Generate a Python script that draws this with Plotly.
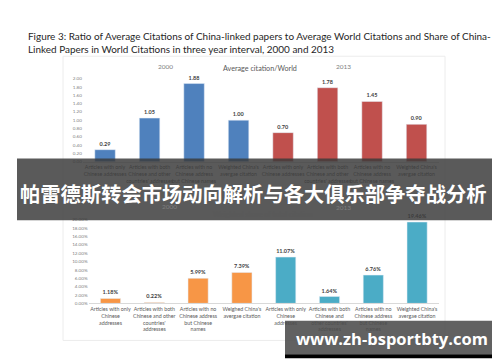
import plotly.graph_objects as go

# ---------------- data ----------------
years = ["2000", "2013"]
ratio_2000 = [0.29, 1.05, 1.88, 1.00]
ratio_2013 = [0.70, 1.78, 1.45, 0.90]
share_2000 = [1.18, 0.22, 5.99, 7.39]
share_2013 = [11.07, 1.64, 6.76, 19.46]

top_labels = [
    "Articles with only<br>Chinese addresses",
    "Articles with both<br>Chinese and other<br>countries' addresses",
    "Articles with no<br>Chinese address<br>but Chinese names",
    "Weighted China's<br>avergae citation",
    "Articles with only<br>Chinese addresses",
    "Articles with both<br>Chinese and other<br>countries' addresses",
    "Articles with no<br>Chinese address<br>but Chinese names",
    "Weighted China's<br>avergae citation",
]
bottom_labels = [
    "Articles with only<br>Chinese<br>addresses",
    "Articles with both<br>Chinese and other<br>countries'<br>addresses",
    "Articles with no<br>Chinese address<br>but Chinese<br>names",
    "Weighed China's<br>avergae citation",
    "Articles with only<br>Chinese<br>addresses",
    "Articles with both<br>Chinese and<br>other countries'<br>addresses",
    "Articles with no<br>Chinese address<br>but Chinese<br>names",
    "Weighted China's<br>avergae citation",
]
top_ticks = [0.0, 0.2, 0.4, 0.6, 0.8, 1.0, 1.2, 1.4, 1.6, 1.8, 2.0]
bottom_ticks = [0, 2, 4, 6, 8, 10, 12, 14, 16, 18, 20]

W, H = 500, 362
def px(x):
    return x / W
def py(y):
    return 1 - y / H

FONT = "Lato, 'Open Sans', sans-serif"
idx_a = list(range(len(ratio_2000)))
idx_b = list(range(len(ratio_2000), len(ratio_2000) + len(ratio_2013)))

fig = go.Figure()
lab_font = dict(family=FONT, size=5.5, color="#404040", weight="bold")

fig.add_trace(go.Bar(x=idx_a, y=ratio_2000, marker_color="#4F81BD", width=0.46,
                     texttemplate="%{y:.2f}", textposition="outside", textfont=lab_font,
                     cliponaxis=False, xaxis="x", yaxis="y"))
fig.add_trace(go.Bar(x=idx_b, y=ratio_2013, marker_color="#C0504D", width=0.46,
                     texttemplate="%{y:.2f}", textposition="outside", textfont=lab_font,
                     cliponaxis=False, xaxis="x", yaxis="y"))
fig.add_trace(go.Bar(x=idx_a, y=share_2000, marker_color="#F79646", width=0.46,
                     texttemplate="%{y:.2f}%", textposition="outside", textfont=lab_font,
                     cliponaxis=False, xaxis="x2", yaxis="y2"))
fig.add_trace(go.Bar(x=idx_b, y=share_2013, marker_color="#4BACC6", width=0.46,
                     texttemplate="%{y:.2f}%", textposition="outside", textfont=lab_font,
                     cliponaxis=False, xaxis="x2", yaxis="y2"))

tickfont = dict(family=FONT, size=4.6, color="#7f7f7f")
catfont = dict(family=FONT, size=5.3, color="#595959")

fig.update_layout(
    width=W, height=H,
    margin=dict(l=0, r=0, t=0, b=0),
    paper_bgcolor="white", plot_bgcolor="white",
    showlegend=False,
    xaxis=dict(domain=[px(74.8), px(430.8)], range=[-0.5, 7.5],
               tickvals=list(range(8)), ticktext=top_labels, tickfont=catfont,
               tickangle=0, showline=True, linecolor="#d9d9d9", linewidth=1,
               showgrid=False, zeroline=False, ticks="", anchor="y", fixedrange=True),
    yaxis=dict(domain=[py(153.3), py(68.7)], range=[0, 2.0],
               tickvals=top_ticks, tickformat=".2f", tickfont=tickfont,
               showgrid=False, zeroline=False, showline=False, ticks="",
               anchor="x", fixedrange=True),
    xaxis2=dict(domain=[px(80.6), px(431.0)], range=[-0.5, 7.5],
                tickvals=list(range(8)), ticktext=bottom_labels, tickfont=catfont,
                tickangle=0, showline=True, linecolor="#d9d9d9", linewidth=1,
                showgrid=False, zeroline=False, ticks="", anchor="y2", fixedrange=True),
    yaxis2=dict(domain=[py(297.3), py(212.3)], range=[0, 20],
                tickvals=bottom_ticks, ticktext=[f"{v:.2f}%" for v in bottom_ticks],
                tickfont=tickfont,
                showgrid=False, zeroline=False, showline=False, ticks="",
                anchor="x2", fixedrange=True),
)

shapes = []
# chart container
shapes.append(dict(type="rect", xref="paper", yref="paper",
                   x0=px(55), x1=px(437), y0=py(335), y1=py(46),
                   line=dict(color="#ececec", width=1), fillcolor="rgba(0,0,0,0)", layer="below"))
# banner overlay
shapes.append(dict(type="rect", xref="paper", yref="paper",
                   x0=px(9), x1=px(492.7), y0=py(212.7), y1=py(150),
                   line=dict(width=0), fillcolor="rgba(58,58,58,0.84)", layer="above"))
# watermark box
shapes.append(dict(type="rect", xref="paper", yref="paper",
                   x0=px(277), x1=px(491), y0=py(349), y1=py(315),
                   line=dict(width=0), fillcolor="rgba(75,75,75,0.88)", layer="above"))
shapes.append(dict(type="rect", xref="paper", yref="paper",
                   x0=px(277), x1=px(491), y0=py(353), y1=py(349),
                   line=dict(width=0), fillcolor="#000000", layer="above"))
fig.update_layout(shapes=shapes)

ann = []
def text(x, y, s, size, color, xanchor="center", weight="normal", family=FONT):
    ann.append(dict(x=px(x), y=py(y), xref="paper", yref="paper", text=s,
                    showarrow=False, xanchor=xanchor, yanchor="middle",
                    font=dict(family=family, size=size, color=color, weight=weight)))

text(18, 25, "Figure 3: Ratio of Average Citations of China-linked papers to Average World Citations and Share of China-",
     9.95, "#262626", xanchor="left")
text(18, 38.3, "Linked Papers in World Citations in three year interval, 2000 and 2013",
     9.95, "#262626", xanchor="left")

text(157, 56, years[0], 6.5, "#7f7f7f")
text(252, 58.5, "Average citation/World", 7.2, "#595959")
text(335.5, 56, years[1], 6.5, "#7f7f7f")

text(161.7, 198.5, years[0], 6.5, "#7f7f7f")
text(254.7, 207, "Weighted share of total citation", 7.2, "#595959")
text(335, 199.5, years[1], 6.5, "#7f7f7f")

text(245, 185.5, "帕雷德斯转会市场动向解析与各大俱乐部争夺战分析", 20.3, "#ffffff",
     weight="bold", family="'Noto Sans CJK SC', sans-serif")
text(383.5, 333, "www.zh-bsportbty.com", 16.5, "#ffffff", weight="bold",
     family="'Open Sans', 'DejaVu Sans', sans-serif")

fig.update_layout(annotations=ann)

fig.write_html("out.html")
